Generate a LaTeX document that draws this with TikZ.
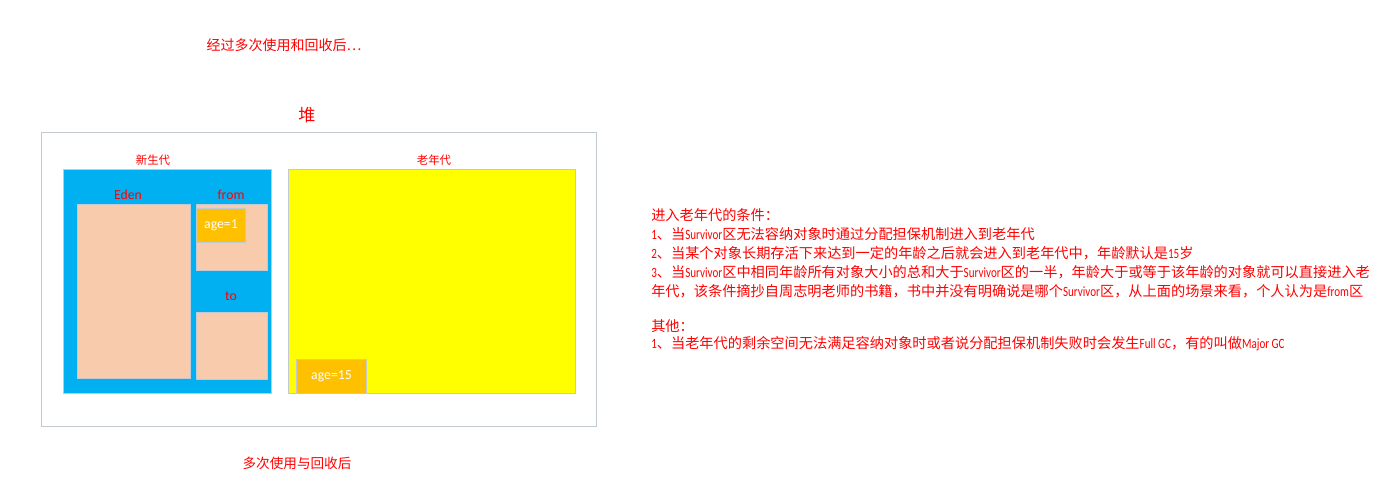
\documentclass[tikz,border=0pt]{standalone}
\usepackage{fontspec}
\setmainfont{Noto Sans CJK SC}
\newfontfamily\boxfont{Carlito}
\newfontfamily\inlinefont[FakeStretch=0.78]{Carlito}
\newcommand{\en}[1]{{\inlinefont #1}}
\usetikzlibrary{positioning}
\definecolor{redtxt}{HTML}{FF0000}
\definecolor{youngblue}{HTML}{00B0F0}
\definecolor{peach}{HTML}{F8CBAD}
\definecolor{ageorange}{HTML}{FFC000}
\definecolor{oldyellow}{HTML}{FFFF00}
\definecolor{edgegray}{HTML}{C3C9D2}
\begin{document}
\begin{tikzpicture}[
  x=0.75pt, y=-0.75pt,
  wh/.style 2 args={minimum width=#1*0.75pt, minimum height=#2*0.75pt},
  region/.style={
    rectangle, draw=edgegray, line width=0.75pt,
    anchor=north west, inner sep=0pt
  },
  agebox/.style={
    region, fill=ageorange, text=white,
    font=\boxfont\fontsize{10.3}{12}\selectfont
  },
  gen/.style={text=redtxt, inner sep=0pt, font=\fontsize{8.6}{10}\selectfont},
  space/.style={text=redtxt, inner sep=0pt, font=\boxfont\fontsize{10.3}{12}\selectfont},
  note/.style={text=redtxt, inner sep=0pt, anchor=west,
    font=\fontsize{10.65}{13}\selectfont}
]
\useasboundingbox (0,0) rectangle (1399,503);

% captions
\node[text=redtxt, font=\fontsize{10.5}{13}\selectfont] (cap_top) at (284,45) {经过多次使用和回收后…};
\node[text=redtxt, font=\fontsize{10.2}{12}\selectfont] (cap_bot) at (297,463) {多次使用与回收后};

% heap
\node[text=redtxt, font=\fontsize{12.8}{15}\selectfont] (heap_lbl) at (307,115) {堆};
\node[region, wh={555}{294}, fill=white] (heap) at (41,132) {};

% young generation
\node[gen] (young_lbl) at (153,160) {新生代};
\node[region, wh={208}{224}, fill=youngblue] (young) at (63,169) {};
\node[space] (eden_lbl) at (128,195) {Eden};
\node[space] (from_lbl) at (231,195) {from};
\node[space] (to_lbl)   at (231,296) {to};
\node[region, wh={113}{174}, fill=peach] (eden) at (77,204) {};
\node[region, wh={71}{66},   fill=peach] (from) at (196,204) {};
\node[region, wh={71}{67},   fill=peach] (to)   at (196,312) {};
\node[agebox, wh={49}{34}] (age1) at (196,208) {age=1};

% old generation
\node[gen] (old_lbl) at (434,160) {老年代};
\node[region, wh={287}{224}, fill=oldyellow] (old) at (288,169) {};
\node[agebox, wh={70}{34}] (age15) at (296,359) {age=15};

% notes
\node[note] (cond0) at (651,215) {进入老年代的条件：};
\node[note] (cond1) at (651,234) {\en{1}、当\en{Survivor}区无法容纳对象时通过分配担保机制进入到老年代};
\node[note] (cond2) at (651,253) {\en{2}、当某个对象长期存活下来达到一定的年龄之后就会进入到老年代中，年龄默认是\en{15}岁};
\node[note] (cond3) at (651,272) {\en{3}、当\en{Survivor}区中相同年龄所有对象大小的总和大于\en{Survivor}区的一半，年龄大于或等于该年龄的对象就可以直接进入老};
\node[note] (cond4) at (651,291) {年代，该条件摘抄自周志明老师的书籍，书中并没有明确说是哪个\en{Survivor}区，从上面的场景来看，个人认为是\en{from}区};
\node[note] (other0) at (651,326) {其他：};
\node[note] (other1) at (651,344) {\en{1}、当老年代的剩余空间无法满足容纳对象时或者说分配担保机制失败时会发生\en{Full GC}，有的叫做\en{Major GC}};
\end{tikzpicture}
\end{document}
